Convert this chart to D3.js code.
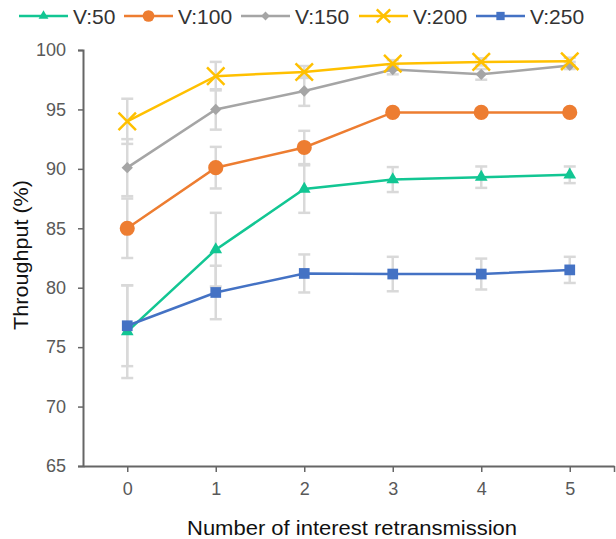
<!DOCTYPE html>
<html>
<head>
<meta charset="utf-8">
<script src="https://cdn.jsdelivr.net/npm/d3@7"></script>
<style>
  body { margin: 0; background: #fff; }
  svg { display: block; font-family: "Liberation Sans", Arial, sans-serif; }
</style>
</head>
<body>
<div id="chart"></div>
<script>
// categories (number of interest retransmissions)
const retrans = [0, 1, 2, 3, 4, 5];
const yTicks = [65, 70, 75, 80, 85, 90, 95, 100];

// throughput (%) per vehicle count, with error bar half-widths
const v50 = [76.3, 83.2, 88.3, 89.1, 89.3, 89.5];
const v50Err = [3.9, 3.1, 2.0, 1.05, 0.9, 0.7];
const v100 = [85.0, 90.1, 91.8, 94.75, 94.75, 94.75];
const v100Err = [2.5, 1.75, 1.4, 0.3, 0.3, 0.3];
const v150 = [90.1, 95.0, 96.55, 98.35, 97.95, 98.7];
const v150Err = [2.4, 1.7, 1.25, 0.4, 0.45, 0.3];
const v200 = [94.0, 97.8, 98.15, 98.85, 99.0, 99.05];
const v200Err = [1.9, 1.2, 0.5, 0.3, 0.3, 0.3];
const v250 = [76.8, 79.6, 81.2, 81.15, 81.15, 81.5];
const v250Err = [3.4, 2.25, 1.6, 1.45, 1.3, 1.1];

const seriesNames = ["V:50", "V:100", "V:150", "V:200", "V:250"];

const series = [
    { name: seriesNames[0], values: v50, err: v50Err, color: "#12C693", symbol: d3.symbolTriangle, size: 70, rotate: 0, stroke: false },
    { name: seriesNames[1], values: v100, err: v100Err, color: "#ED7D31", symbol: d3.symbolCircle, size: 180, rotate: 0, stroke: false },
    { name: seriesNames[2], values: v150, err: v150Err, color: "#A5A5A5", symbol: d3.symbolSquare, size: 64, rotate: 45, stroke: false },
    { name: seriesNames[3], values: v200, err: v200Err, color: "#FFC000", symbol: d3.symbolX, size: 200, rotate: 0, stroke: true },
    { name: seriesNames[4], values: v250, err: v250Err, color: "#4472C4", symbol: d3.symbolSquare, size: 115, rotate: 0, stroke: false }
];

const width = 616;
const height = 539;
const margin = { top: 50, right: 2, bottom: 73, left: 83 };

const svg = d3.select("#chart")
    .append("svg")
    .attr("width", width)
    .attr("height", height);

const xScale = d3.scaleLinear()
    .domain([-0.5, 5.5])
    .range([margin.left, width - margin.right]);

const yScale = d3.scaleLinear()
    .domain([65, 100])
    .range([height - margin.bottom, margin.top]);

// Eixo Y
const yAxis = d3.axisLeft(yScale)
    .tickValues(yTicks)
    .tickSize(5)
    .tickPadding(12);

const gy = svg.append("g")
    .attr("transform", `translate(${margin.left},0)`)
    .call(yAxis);
gy.select(".domain").attr("stroke", "#666").attr("stroke-width", 2);
gy.selectAll(".tick line").attr("stroke", "#666").attr("stroke-width", 1.5);
gy.selectAll("text")
    .attr("fill", "#595959")
    .style("font-size", "18px");

// Eixo X (tick extra no fim do eixo, sem rótulo)
const xAxis = d3.axisBottom(xScale)
    .tickValues(retrans.concat([5.5]))
    .tickFormat(d => d > 5 ? "" : d)
    .tickSizeInner(6)
    .tickSizeOuter(0)
    .tickPadding(10);

const gx = svg.append("g")
    .attr("transform", `translate(0,${height - margin.bottom})`)
    .call(xAxis);
gx.select(".domain").attr("stroke", "#666").attr("stroke-width", 2);
gx.selectAll(".tick line").attr("stroke", "#666").attr("stroke-width", 1.5);
gx.selectAll("text")
    .attr("fill", "#595959")
    .style("font-size", "18px");

// Títulos dos eixos
svg.append("text")
    .attr("x", 352)
    .attr("y", 535)
    .attr("text-anchor", "middle")
    .attr("textLength", 330)
    .attr("lengthAdjust", "spacingAndGlyphs")
    .attr("fill", "#111")
    .style("font-size", "20px")
    .text("Number of interest retransmission");

svg.append("text")
    .attr("transform", `translate(28,255) rotate(-90)`)
    .attr("text-anchor", "middle")
    .attr("textLength", 150)
    .attr("lengthAdjust", "spacingAndGlyphs")
    .attr("fill", "#111")
    .style("font-size", "20px")
    .text("Throughput (%)");

// Barras de erro
const capW = 6;
series.forEach(s => {
    const g = svg.append("g").attr("stroke", "#D9D9D9").attr("stroke-width", 2.5);
    s.values.forEach((v, i) => {
        const x = xScale(retrans[i]);
        const y1 = yScale(v + s.err[i]);
        const y2 = yScale(v - s.err[i]);
        g.append("line").attr("x1", x).attr("x2", x).attr("y1", y1).attr("y2", y2);
        g.append("line").attr("x1", x - capW).attr("x2", x + capW).attr("y1", y1).attr("y2", y1);
        g.append("line").attr("x1", x - capW).attr("x2", x + capW).attr("y1", y2).attr("y2", y2);
    });
});

const lineGenerator = d3.line()
    .x((d, i) => xScale(retrans[i]))
    .y(d => yScale(d));

function drawMarker(g, s, x, y) {
    const path = g.append("path")
        .attr("d", d3.symbol().type(s.symbol).size(s.size)())
        .attr("transform", `translate(${x},${y}) rotate(${s.rotate})`);
    if (s.stroke) {
        path.attr("fill", "none").attr("stroke", s.color).attr("stroke-width", 2.5);
    } else {
        path.attr("fill", s.color);
    }
}

// Linhas e marcadores
series.forEach(s => {
    svg.append("path")
        .datum(s.values)
        .attr("fill", "none")
        .attr("stroke", s.color)
        .attr("stroke-width", 2.5)
        .attr("d", lineGenerator);

    const g = svg.append("g");
    s.values.forEach((v, i) => drawMarker(g, s, xScale(retrans[i]), yScale(v)));
});

// Legenda
const legendX = [19, 124, 241, 359, 476];
const legendY = 16;
series.forEach((s, i) => {
    const g = svg.append("g").attr("transform", `translate(${legendX[i]},${legendY})`);
    g.append("line")
        .attr("x1", 0).attr("x2", 49)
        .attr("y1", 0).attr("y2", 0)
        .attr("stroke", s.color)
        .attr("stroke-width", 2.5);
    const ls = Object.assign({}, s, { size: s.size * 0.6 });
    drawMarker(g, ls, 24.5, 0);
    g.append("text")
        .attr("x", 54)
        .attr("y", 7.5)
        .attr("fill", "#333")
        .style("font-size", "21px")
        .text(s.name);
});
</script>
</body>
</html>
